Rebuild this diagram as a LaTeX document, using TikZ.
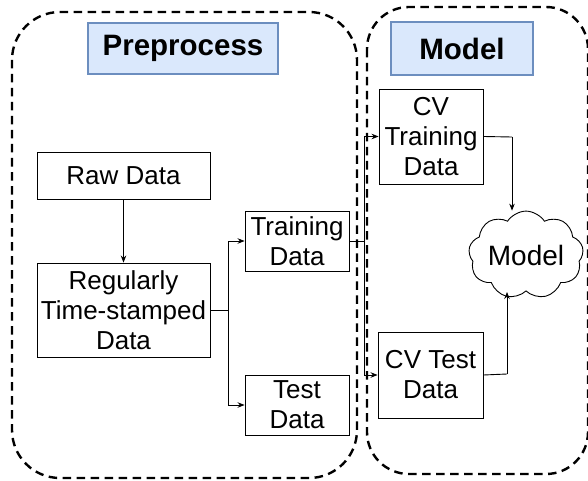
\documentclass[tikz,border=0pt]{standalone}
\usepackage{fontspec}
\setmainfont{Liberation Sans}
\usetikzlibrary{arrows.meta,shapes.symbols}
\definecolor{titlefill}{HTML}{DAE8FC}
\definecolor{titledraw}{HTML}{6C8EBF}
\begin{document}
\begin{tikzpicture}[x=1pt,y=-1pt,
  box/.style={draw=black,line width=0.9pt,fill=white,align=center,inner sep=0pt,
    font=\fontsize{26}{30}\selectfont},
  titlebox/.style={draw=titledraw,line width=1.6pt,fill=titlefill,inner sep=0pt,
    font=\fontsize{29.5}{34}\selectfont\bfseries},
  container/.style={draw=black,line width=2.4pt,dash pattern=on 8.5pt off 5.5pt},
  conn/.style={draw=black,line width=0.9pt,-{Stealth[length=7pt,width=5.5pt]}},
  seg/.style={draw=black,line width=0.9pt}]
\useasboundingbox (0,0) rectangle (588,481);
% containers
\draw[container,rounded corners=48pt] (12,12) rectangle (357,478);
\draw[container,rounded corners=42pt] (367,7) rectangle (588,474);
% titles
\node[titlebox,minimum width=190pt,minimum height=51pt] (tpre) at (183,48.5) {Preprocess};
\node[titlebox,minimum width=142pt,minimum height=53pt] (tmod) at (462,48.5) {Model};
% boxes
\node[box,minimum width=173pt,minimum height=47pt] (raw) at (123.5,175.5) {Raw Data};
\node[box,minimum width=173pt,minimum height=94pt] (reg) at (123.5,310) {Regularly\\Time-stamped\\Data};
\node[box,minimum width=104pt,minimum height=60pt] (tr) at (297,241) {Training\\Data};
\node[box,minimum width=104pt,minimum height=60pt] (te) at (297,405) {Test\\Data};
\node[box,minimum width=104pt,minimum height=95pt] (cvtr) at (431,136.5) {CV\\Training\\Data};
\node[box,minimum width=105pt,minimum height=86pt] (cvte) at (430.5,375) {CV Test\\Data};
\node[cloud,draw=black,line width=0.9pt,fill=white,cloud puffs=9,cloud puff arc=115,
  aspect=1.5,inner sep=0pt,minimum width=108pt,minimum height=74pt,
  font=\fontsize{28}{30}\selectfont] (mdl) at (526,255) {Model};
% connectors
\draw[conn] (raw) -- (reg);
\coordinate (s1) at (228,310);
\draw[seg] (reg.east) -- (s1);
\draw[conn] (s1) |- (tr.west);
\draw[conn] (s1) |- (te.west);
\coordinate (s2) at (364,241);
\draw[seg] (tr.east) -- (s2);
\draw[conn] (s2) |- (cvtr.west);
\draw[conn] (s2) |- (cvte.west);
\coordinate (c1) at (512,137);
\draw[seg] (cvtr.east) -- (c1);
\draw[conn] (c1) -- (mdl.north -| c1);
\coordinate (c2) at (507,374);
\draw[seg] (cvte.east) -- (c2);
\draw[conn] (c2) -- (507,292);
\end{tikzpicture}
\end{document}
